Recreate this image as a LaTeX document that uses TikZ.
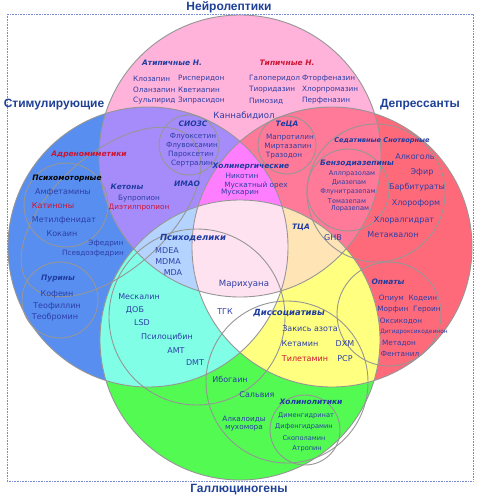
\documentclass[tikz,border=0pt]{standalone}
\usepackage{fontspec}
\setmainfont{DejaVu Sans}
\newfontfamily\titlefont{Liberation Sans}
\definecolor{cpink}{RGB}{255,178,218}
\definecolor{cblue}{RGB}{88,142,240}
\definecolor{cred}{RGB}{255,106,122}
\definecolor{cgreen}{RGB}{82,250,82}
\definecolor{cpurple}{RGB}{166,140,250}
\definecolor{cdpink}{RGB}{255,122,152}
\definecolor{cmag}{RGB}{255,125,255}
\definecolor{clblue}{RGB}{180,212,255}
\definecolor{ccyan}{RGB}{128,255,230}
\definecolor{cyel}{RGB}{255,255,128}
\definecolor{corange}{RGB}{255,228,182}
\definecolor{clpink}{RGB}{255,226,240}
\definecolor{cline}{RGB}{150,150,150}
\definecolor{cdrug}{RGB}{45,62,165}
\definecolor{ccat}{RGB}{30,60,160}
\definecolor{ctitle}{RGB}{30,64,150}
\definecolor{cdred}{RGB}{205,20,50}
\definecolor{cframe}{RGB}{120,140,210}
\tikzset{
  ring/.style={draw=cline, line width=0.9pt},
  sub/.style={draw=cline, line width=0.9pt},
  drug/.style={text=cdrug, inner sep=0pt, font=\fontsize{8}{9}\selectfont},
  small/.style={drug, font=\fontsize{7.3}{8}\selectfont},
  tiny/.style={drug, font=\fontsize{6.6}{7}\selectfont},
  cat/.style={text=ccat, inner sep=0pt, font=\fontsize{7.5}{8}\selectfont\bfseries\itshape},
  rcat/.style={cat, text=cdred},
  title/.style={text=ctitle, inner sep=0pt, font=\fontsize{12}{13}\selectfont\titlefont\bfseries},
}
\begin{document}
\begin{tikzpicture}[x=1pt,y=-1pt]
\useasboundingbox (0,0) rectangle (495,500);
\fill[white] (0,0) rectangle (495,500);
\coordinate (P) at (240,156);
\coordinate (B) at (148,247);
\coordinate (R) at (332,247);
\coordinate (G) at (240,340);
% base fills
\fill[cpink] (P) circle[radius=141pt];
\fill[cblue] (B) circle[radius=140pt];
\fill[cred] (R) circle[radius=140pt];
\fill[cgreen] (G) circle[radius=140pt];
% pairs
\begin{scope}\clip (B) circle[radius=140pt]; \fill[cpurple] (P) circle[radius=141pt];\end{scope}
\begin{scope}\clip (R) circle[radius=140pt]; \fill[cdpink] (P) circle[radius=141pt];\end{scope}
\begin{scope}\clip (B) circle[radius=140pt]; \fill[ccyan] (G) circle[radius=140pt];\end{scope}
\begin{scope}\clip (R) circle[radius=140pt]; \fill[cyel] (G) circle[radius=140pt];\end{scope}
% triples
\begin{scope}\clip (B) circle[radius=140pt]; \clip (G) circle[radius=140pt]; \fill[clblue] (P) circle[radius=141pt];\end{scope}
\begin{scope}\clip (R) circle[radius=140pt]; \clip (G) circle[radius=140pt]; \fill[corange] (P) circle[radius=141pt];\end{scope}
\begin{scope}\clip (B) circle[radius=140pt]; \clip (R) circle[radius=140pt]; \fill[cmag] (P) circle[radius=141pt];\end{scope}
\begin{scope}\clip (B) circle[radius=140pt]; \clip (R) circle[radius=140pt]; \fill[white] (G) circle[radius=140pt];\end{scope}
% all four
\begin{scope}\clip (B) circle[radius=140pt]; \clip (R) circle[radius=140pt]; \clip (G) circle[radius=140pt]; \fill[clpink] (P) circle[radius=141pt];\end{scope}
% outlines
\draw[ring] (P) circle[radius=141pt];
\draw[ring] (B) circle[radius=140pt];
\draw[ring] (R) circle[radius=140pt];
\draw[ring] (G) circle[radius=140pt];
% sub circles
\draw[sub] (189,145) circle[radius=30pt];
\draw[sub] (287,145) circle[radius=29pt];
\draw[sub] (376,193) circle[radius=69pt];
\draw[sub] (348,190) circle[radius=41pt];
\draw[sub] (66,205) circle[radius=42pt];
\draw[sub] (60,300) circle[radius=38pt];
\draw[sub] (197,317) circle[radius=88pt];
\draw[sub] (287,382) circle[radius=81pt];
\draw[sub] (305,430) circle[radius=35pt];
\draw[sub] (389,314) circle[radius=52pt];
\draw[sub, rotate around={42:(111,212)}] (111,212) ellipse[x radius=109pt, y radius=58pt];
% frame
\draw[cframe, densely dotted, line width=0.6pt] (7,14) rectangle (473,481);
% titles
\node[title] (tN) at (229,7) {Нейролептики};
\node[title] (tS) at (54,105) {Стимулирующие};
\node[title] (tD) at (420,105) {Депрессанты};
\node[title] (tG) at (239,490) {Галлюциногены};
% neuroleptics
\node[cat] (atyp) at (172,63) {Атипичные Н.};
\node[rcat] (typ) at (287,63) {Типичные Н.};
\node[small, anchor=west] (n1) at (133,79) {Клозапин};
\node[small, anchor=west] (n2) at (178,79) {Рисперидон};
\node[small, anchor=west] (n3) at (133,90) {Оланзапин};
\node[small, anchor=west] (n4) at (178,90) {Кветиапин};
\node[small, anchor=west] (n5) at (133,101) {Сульпирид};
\node[small, anchor=west] (n6) at (178,101) {Зипрасидон};
\node[small, anchor=west] (n7) at (249,79) {Галоперидол};
\node[small, anchor=west] (n8) at (302,79) {Фторфеназин};
\node[small, anchor=west] (n9) at (249,90) {Тиоридазин};
\node[small, anchor=west] (n10) at (302,90) {Хлорпромазин};
\node[small, anchor=west] (n11) at (249,101) {Пимозид};
\node[small, anchor=west] (n12) at (302,101) {Перфеназин};
\node[drug, font=\fontsize{8.6}{9}\selectfont] (kan) at (244,116) {Каннабидиол};
% SSRI
\node[cat] (ssri) at (193,124) {СИОЗС};
\node[small] (s1) at (193,137) {Флуоксетин};
\node[small] (s2) at (192,146) {Флувоксамин};
\node[small] (s3) at (191,155) {Пароксетин};
\node[small] (s4) at (192,164) {Сертралин};
% TeCA
\node[cat] (teca) at (287,124) {ТеЦА};
\node[small] (t1) at (290,138) {Мапротилин};
\node[small] (t2) at (288,147) {Миртазапин};
\node[small] (t3) at (284,156) {Тразодон};
% cholinergic
\node[cat] (chol) at (251,167) {Холинергические};
\node[small] (c1) at (242,176) {Никотин};
\node[small] (c2) at (256,185) {Мускатный орех};
\node[small] (c3) at (240,193) {Мускарин};
\node[cat] (imao) at (187,184) {ИМАО};
% stimulants
\node[cat] (ket) at (127,187) {Кетоны};
\node[small] (k1) at (139,199) {Бупропион};
\node[small, text=cdred] (k2) at (139,208) {Диэтилпропион};
\node[rcat] (adr) at (89,155) {Адреномиметики};
\node[cat, text=black] (psm) at (67,179) {Психомоторные};
\node[drug] (p1) at (63,192) {Амфетамины};
\node[drug, text=cdred] (p2) at (53,206) {Катиноны};
\node[drug] (p3) at (64,220) {Метилфенидат};
\node[drug] (p4) at (62,234) {Кокаин};
\node[small] (e1) at (106,244) {Эфедрин};
\node[small] (e2) at (93,254) {Псевдоэфедрин};
\node[cat] (pur) at (58,279) {Пурины};
\node[drug] (u1) at (57,294) {Кофеин};
\node[drug] (u2) at (57,306) {Теофиллин};
\node[drug] (u3) at (55,317) {Теобромин};
% psychedelics
\node[cat, font=\fontsize{8.5}{9}\selectfont\bfseries\itshape] (psy) at (193,238) {Психоделики};
\node[drug] (m1) at (167,251) {MDEA};
\node[drug] (m2) at (168,262) {MDMA};
\node[drug] (m3) at (173,273) {MDA};
\node[drug, font=\fontsize{8.6}{9}\selectfont] (mar) at (244,284) {Марихуана};
\node[drug] (h1) at (139,297) {Мескалин};
\node[drug] (h2) at (135,310) {ДОБ};
\node[drug] (h3) at (142,323) {LSD};
\node[drug] (h4) at (167,337) {Псилоцибин};
\node[drug] (h5) at (176,351) {AMT};
\node[drug] (h6) at (195,363) {DMT};
\node[drug] (thc) at (225,312) {ТГК};
% dissociatives
\node[cat, font=\fontsize{8.5}{9}\selectfont\bfseries\itshape] (dis) at (289,313) {Диссоциативы};
\node[drug] (d1) at (310,329) {Закись азота};
\node[drug] (d2) at (300,344) {Кетамин};
\node[drug] (d3) at (345,344) {DXM};
\node[drug, text=cdred] (d4) at (305,359) {Тилетамин};
\node[drug] (d5) at (345,359) {PCP};
\node[drug] (ibo) at (230,379) {Ибогаин};
\node[drug] (sal) at (257,395) {Сальвия};
\node[small, align=center] (alk) at (244,424) {Алкалоиды\\мухомора};
\node[cat] (chl) at (311,402) {Холинолитики};
\node[tiny] (l1) at (306,416) {Дименгидринат};
\node[tiny] (l2) at (304,427) {Дифенгидрамин};
\node[tiny] (l3) at (304,438) {Скополамин};
\node[tiny] (l4) at (307,449) {Атропин};
% depressants
\node[cat, font=\fontsize{6.6}{7}\selectfont\bfseries\itshape] (sed) at (382,141) {Седативные Снотворные};
\node[drug] (a1) at (415,157) {Алкоголь};
\node[drug] (a2) at (422,172) {Эфир};
\node[drug] (a3) at (417,187) {Барбитураты};
\node[drug] (a4) at (416,203) {Хлороформ};
\node[drug] (a5) at (404,220) {Хлоралгидрат};
\node[drug] (a6) at (393,235) {Метаквалон};
\node[cat] (bzd) at (357,163) {Бензодиазепины};
\node[tiny] (b1) at (352,174) {Аллпразолам};
\node[tiny] (b2) at (349,183) {Диазепам};
\node[tiny] (b3) at (348,192) {Флунитразепам};
\node[tiny] (b4) at (347,201) {Темазепам};
\node[tiny] (b5) at (350,209) {Лоразепам};
\node[cat] (tca) at (301,227) {ТЦА};
\node[drug] (ghb) at (333,238) {GHB};
\node[cat] (opi) at (388,282) {Опиаты};
\node[small] (o1) at (408,299) {Опиум\ \ Кодеин};
\node[small] (o2) at (409,310) {Морфин\ \ Героин};
\node[small] (o3) at (401,321) {Оксикодон};
\node[drug, font=\fontsize{5.9}{6}\selectfont] (o4) at (414,332) {Дигидроксикодеинон};
\node[small] (o5) at (399,343) {Метадон};
\node[small] (o6) at (400,354) {Фентанил};
\end{tikzpicture}
\end{document}
